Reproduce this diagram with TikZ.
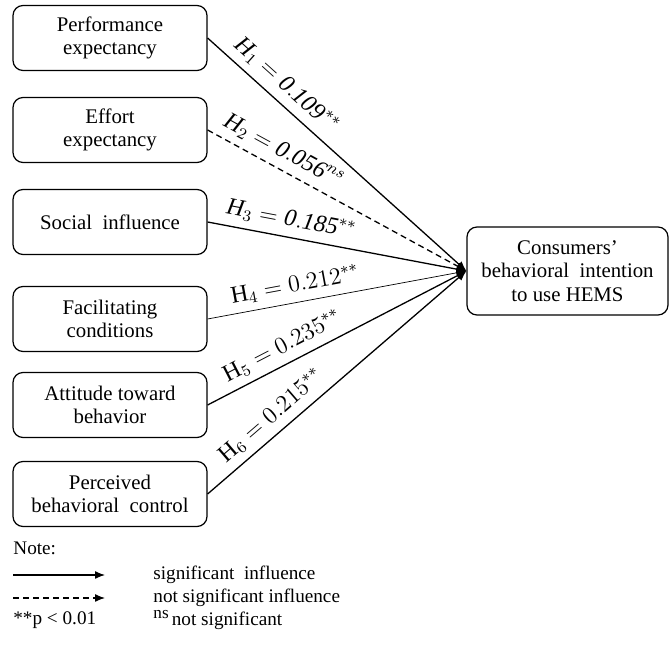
\documentclass[tikz,border=0pt]{standalone}
\usepackage{fontspec}
\setmainfont{Liberation Serif}
\usetikzlibrary{arrows.meta,positioning}

\begin{document}
\begin{tikzpicture}[
	x=0.5pt,
	y=-0.5pt,
	% Antecedent constructs
	constructBox/.style={
		draw=black,
		rounded corners=5pt,
		line width=0.6pt,
		minimum width=97pt,
		minimum height=32.5pt,
		align=center,
		inner sep=1pt,
		font=\fontsize{10.4}{11.6}\selectfont
	},
	% Outcome construct
	outcomeBox/.style={
		constructBox,
		minimum width=100.5pt,
		minimum height=44pt
	},
	pathSig/.style={
		-{Latex[length=5pt,width=4pt]},
		line width=0.65pt
	},
	pathNs/.style={
		pathSig,
		dash pattern=on 3pt off 2pt
	},
	pathThin/.style={
		-{Latex[length=5pt,width=4pt]},
		line width=0.35pt
	},
	coefLabel/.style={
		sloped,
		above=2.5pt,
		inner sep=1pt,
		font=\fontsize{12}{14}\selectfont
	},
	noteText/.style={
		anchor=west,
		inner sep=0pt,
		font=\fontsize{9.6}{11}\selectfont
	}
	]
	
	\useasboundingbox (0,0) rectangle (670,646);
	
	% UTAUT / TPB constructs
	\node[constructBox] (pe) at (110,38) {Performance\\expectancy};
	\node[constructBox] (ee) at (110,130) {Effort\\expectancy};
	\node[constructBox] (si) at (110,222) {Social~ influence};
	\node[constructBox] (fc) at (110,319) {Facilitating\\conditions};
	\node[constructBox] (ab) at (110,405) {Attitude toward\\behavior};
	\node[constructBox] (pbc) at (110,494) {Perceived\\behavioral~ control};
	
	\node[outcomeBox] (bi) at (567.5,271)
	{Consumers’\\behavioral~ intention\\to use HEMS};
	
	% Hypothesised paths
	\draw[pathSig] (pe.east) -- node[coefLabel,pos=0.26]
	{$\mathit{H}_1 = \mathit{0.109}^{**}$} (bi.west);
	\draw[pathNs] (ee.east) -- node[coefLabel,pos=0.26]
	{$\mathit{H}_2 = \mathit{0.056}^{ns}$} (bi.west);
	\draw[pathSig] (si.east) -- node[coefLabel,pos=0.31]
	{$\mathit{H}_3 = \mathit{0.185}^{**}$} (bi.west);
	\draw[pathThin] (fc.east) -- node[coefLabel,pos=0.35]
	{$\mathrm{H}_4 = 0.212^{**}$} (bi.west);
	\draw[pathSig] (ab.east) -- node[coefLabel,pos=0.32]
	{$\mathrm{H}_5 = 0.235^{**}$} (bi.west);
	\draw[pathSig] (pbc.east) -- node[coefLabel,pos=0.29]
	{$\mathrm{H}_6 = 0.215^{**}$} (bi.west);
	
	% Note
	\node[noteText] (note) at (13,548) {Note:};
	
	\coordinate (sigA) at (13,575);
	\coordinate (sigB) at (105,575);
	\draw[pathSig] (sigA) -- (sigB);
	\node[noteText] (sigTxt) at (153,575) {significant~ influence};
	
	\coordinate (nsA) at (13,598);
	\coordinate (nsB) at (105,598);
	\draw[pathNs] (nsA) -- (nsB);
	\node[noteText] (nsTxt) at (153,598) {not significant influence};
	
	\node[noteText] (pval) at (13,620) {**p < 0.01};
	\node[noteText] (nsDef) at (153,620)
	{\raisebox{3.5pt}{\fontsize{8.6}{10}\selectfont ns}\,not significant};
	
\end{tikzpicture}
\end{document}
